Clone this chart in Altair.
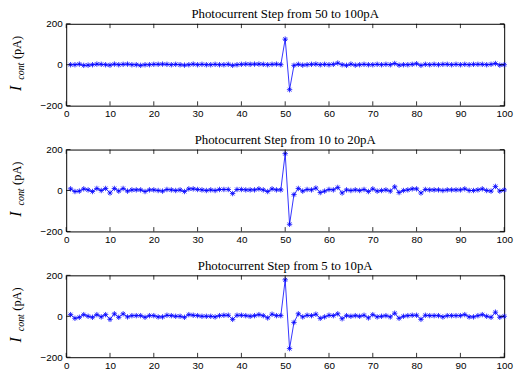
import altair as alt
import pandas as pd

x_vals = list(range(1, 101))
titles = [
    "Photocurrent Step from 50 to 100pA",
    "Photocurrent Step from 10 to 20pA",
    "Photocurrent Step from 5 to 10pA",
]
s1 = [0, 0, 3, -3, -2, 0, 3, 2, 0, -2, 3, 0, 2, 3, 0, 0, -3, 0, 0, 2,
      2, 3, 2, 0, 2, 0, -2, 0, 3, 0, 2, 0, 0, 2, 0, 0, 2, -3, 0, 2,
      3, 2, 3, 3, 2, 0, 2, 3, 0, 125, -122, -3, 2, -2, 0, 2, 3, 0, 2, 0,
      2, 8, 0, -3, 3, -2, 0, 2, 0, 0, 2, 0, 2, 0, 6, -2, 0, 0, 2, 5,
      -3, 2, 0, 2, 0, 2, 2, 0, 2, 0, 2, 0, 2, 2, 2, 0, 2, 6, -2, 0]
s2 = [8, -5, -3, 8, 3, -5, 10, 0, 10, -12, 10, -3, 10, -3, 3, 3, 3, -5, 3, 3,
      0, -3, 5, 3, 0, 3, -5, 8, 8, 5, 3, 0, 3, 0, 5, 5, 5, -15, 5, 5,
      3, 3, 3, 8, 3, -5, 8, 3, 3, 180, -165, -20, 10, -3, 5, 3, 12, -10, -3, 5,
      3, 15, -12, 3, 0, 3, 0, 5, -5, 8, -3, 0, 3, -3, 18, -10, 0, 3, 8, 8,
      -12, 5, 3, 3, 3, 0, 3, 3, 3, 3, 8, 0, 0, 3, 8, 0, -3, 20, -3, 3]
s3 = [8, -10, -5, 8, 0, -5, 8, -3, 8, -15, 12, -5, 12, -3, 3, 3, 3, -5, 3, 3,
      -3, -3, 5, 3, 0, 0, -5, 8, 5, 3, 0, 0, 0, -3, 3, 5, 5, -15, 5, 5,
      3, 0, 3, 8, 3, -8, 10, 3, 3, 178, -158, -30, 12, -3, 5, 3, 10, -10, -3, 5,
      3, 12, -12, 3, 0, 3, 0, 5, -8, 8, -3, 0, 3, -3, 15, -10, 0, 3, 5, 5,
      -15, 5, 3, 3, 3, -3, 3, 3, 3, 3, 8, -3, -3, 3, 8, 0, -5, 20, -5, 0]
series = [s1, s2, s3]
x_ticks = [0, 10, 20, 30, 40, 50, 60, 70, 80, 90, 100]
y_ticks = [-200, 0, 200]

W, H = 444, 83
TL = 4.4
BLUE = "#0000ff"
STAR = "M-1,0L1,0M0,-1L0,1M-0.7,-0.7L0.7,0.7M-0.7,0.7L0.7,-0.7"
SERIF = "Liberation Serif"


def panel(vals, title):
    df = pd.DataFrame({"t": x_vals, "i": vals})
    xs = alt.X("t:Q", scale=alt.Scale(domain=[0, 100], nice=False, zero=False),
               axis=alt.Axis(values=x_ticks, ticks=False, domain=False, grid=False,
                             labelPadding=3, title=None, labelFlush=False))
    ys = alt.Y("i:Q", scale=alt.Scale(domain=[-200, 200], nice=False),
               axis=alt.Axis(values=y_ticks, ticks=False, domain=False, grid=False,
                             labelPadding=4, title=None))
    line = alt.Chart(df).mark_line(color=BLUE, strokeWidth=0.8).encode(x=xs, y=ys)
    pts = alt.Chart(df).mark_point(shape=STAR, size=30, color=BLUE, strokeWidth=0.8,
                                   filled=False, opacity=1).encode(x="t:Q", y="i:Q")
    xt = pd.DataFrame({"t": x_ticks})
    yt = pd.DataFrame({"i": y_ticks})
    bt = alt.Chart(xt).mark_rule(color="black", strokeWidth=0.8).encode(
        x="t:Q", y=alt.value(H), y2=alt.value(H - TL))
    tt = alt.Chart(xt).mark_rule(color="black", strokeWidth=0.8).encode(
        x="t:Q", y=alt.value(0), y2=alt.value(TL))
    lt = alt.Chart(yt).mark_rule(color="black", strokeWidth=0.8).encode(
        y="i:Q", x=alt.value(0), x2=alt.value(TL))
    rt = alt.Chart(yt).mark_rule(color="black", strokeWidth=0.8).encode(
        y="i:Q", x=alt.value(W), x2=alt.value(W - TL))
    one = pd.DataFrame({"k": [0]})
    tI = alt.Chart(one).mark_text(text="I", font=SERIF, fontStyle="italic", fontSize=16,
                                  angle=270, align="center", baseline="alphabetic",
                                  color="black").encode(x=alt.value(-45.5), y=alt.value(65.5))
    tc = alt.Chart(one).mark_text(text="cont", font=SERIF, fontStyle="italic", fontSize=10,
                                  angle=270, align="center", baseline="alphabetic",
                                  color="black").encode(x=alt.value(-42.5), y=alt.value(48))
    tp = alt.Chart(one).mark_text(text="(pA)", font=SERIF, fontSize=12.5,
                                  angle=270, align="center", baseline="alphabetic",
                                  color="black").encode(x=alt.value(-45.5), y=alt.value(24))
    return alt.layer(line, pts, bt, tt, lt, rt, tI, tc, tp).properties(
        width=W, height=H, title=alt.TitleParams(title, dy=6.5))


chart = alt.vconcat(*[panel(s, t) for s, t in zip(series, titles)], spacing=14.5).properties(
    padding={"left": 0, "top": -2.5, "right": 5, "bottom": 0}
).configure_view(stroke="black", strokeWidth=1).configure_axis(
    labelFont="Liberation Sans", labelFontSize=10, labelColor="black"
).configure_title(font=SERIF, fontSize=13, fontWeight="normal", color="black", offset=0)

chart.save("out.html", embed_options={"renderer": "svg", "actions": False})
